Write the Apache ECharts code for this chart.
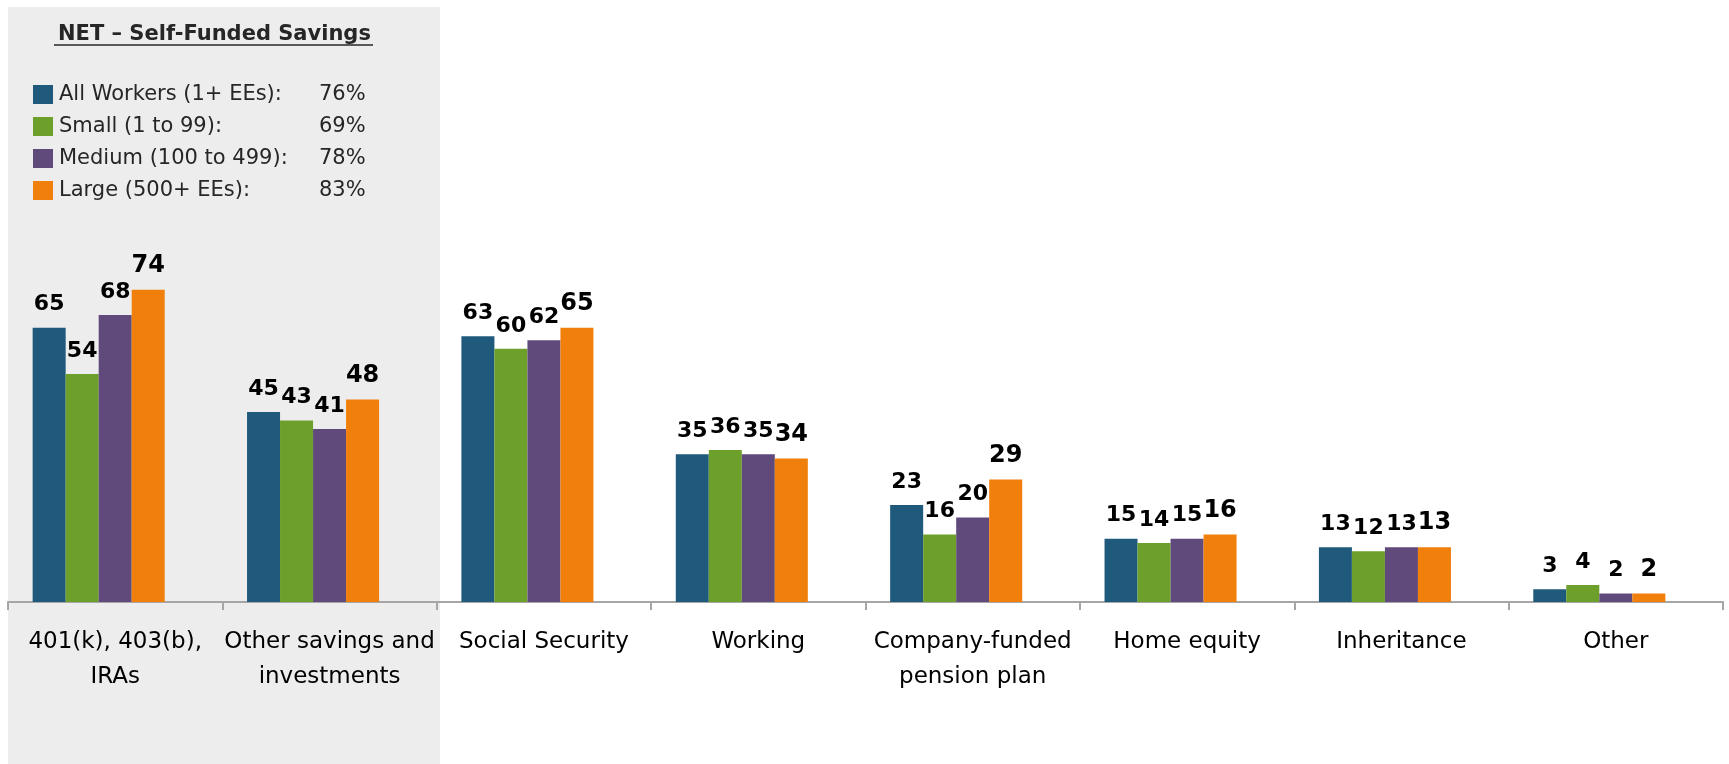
<!DOCTYPE html>
<html>
<head>
<meta charset="utf-8">
<script src="https://cdn.jsdelivr.net/npm/echarts@6/dist/echarts.min.js"></script>
<style>
html,body{margin:0;padding:0;background:#fff;}
#chart{width:1729px;height:764px;}
</style>
</head>
<body>
<div id="chart"></div>
<script>
const categories = ["401(k), 403(b),\nIRAs", "Other savings and\ninvestments", "Social Security", "Working", "Company-funded\npension plan", "Home equity", "Inheritance", "Other"];
const seriesNames = ["All Workers (1+ EEs):", "Small (1 to 99):", "Medium (100 to 499):", "Large (500+ EEs):"];
const netPct = ["76%", "69%", "78%", "83%"];
const allWorkers = [65, 45, 63, 35, 23, 15, 13, 3];
const small = [54, 43, 60, 36, 16, 14, 12, 4];
const medium = [68, 41, 62, 35, 20, 15, 13, 2];
const large = [74, 48, 65, 34, 29, 16, 13, 2];
const colors = ["#1F5A7C", "#6CA02A", "#604A7B", "#F0800B"];
const panelTitle = "NET – Self-Funded Savings";

const FONT = "DejaVu Sans";
const values = [allWorkers, small, medium, large];
const series = values.map((d, i) => ({
  name: seriesNames[i],
  type: 'bar',
  data: d,
  barGap: '0%',
  barCategoryGap: '23%',
  itemStyle: { color: colors[i] },
  label: {
    show: true, position: 'top', distance: 12,
    color: '#000', fontFamily: FONT, fontWeight: 'bold',
    fontSize: i === 3 ? 24 : 22
  },
  z: 3
}));
// empty placeholder slot (keeps the groups offset like the original)
series.push({ name: '_spacer', type: 'bar', data: categories.map(() => null), barGap: '0%', barCategoryGap: '23%', silent: true });

const chart = echarts.init(document.getElementById('chart'));
const pctMap = {};
seriesNames.forEach((n, i) => pctMap[n] = netPct[i]);
chart.setOption({
  animation: false,
  color: colors,
  grid: { left: 8, right: 6, top: 180, bottom: 162 },
  title: {
    text: panelTitle, left: 53, top: 19,
    textStyle: { fontFamily: FONT, fontWeight: 'bold', fontSize: 21, color: '#262626' }
  },
  legend: {
    data: seriesNames, orient: 'vertical', left: 28, top: 79,
    itemWidth: 20, itemHeight: 19, itemGap: 11, icon: 'rect',
    formatter: n => '{n|' + n + '}{p|' + pctMap[n] + '}',
    textStyle: {
      fontFamily: FONT, fontSize: 21, color: '#262626', lineHeight: 19,
      rich: {
        n: { fontFamily: FONT, fontSize: 21, color: '#262626', width: 260, lineHeight: 19, padding: [0,0,0,1] },
        p: { fontFamily: FONT, fontSize: 21, color: '#262626', lineHeight: 19 }
      }
    }
  },
  xAxis: {
    type: 'category', data: categories,
    axisLine: { lineStyle: { color: '#A6A6A6', width: 2 } },
    axisTick: { show: true, length: 8, lineStyle: { color: '#A6A6A6', width: 2 } },
    axisLabel: { fontFamily: FONT, fontSize: 23, color: '#000', margin: 23, lineHeight: 35, interval: 0 }
  },
  yAxis: { type: 'value', min: 0, max: 100, show: false, splitLine: { show: false } },
  graphic: [
    { type: 'rect', shape: { x: 8, y: 7, width: 432, height: 757 }, style: { fill: '#EDEDED' }, z: -10, silent: true },
    { type: 'line', shape: { x1: 54, y1: 45, x2: 373, y2: 45 }, style: { stroke: '#262626', lineWidth: 1.5 }, z: 10, silent: true }
  ],
  series: series
});
</script>
</body>
</html>
